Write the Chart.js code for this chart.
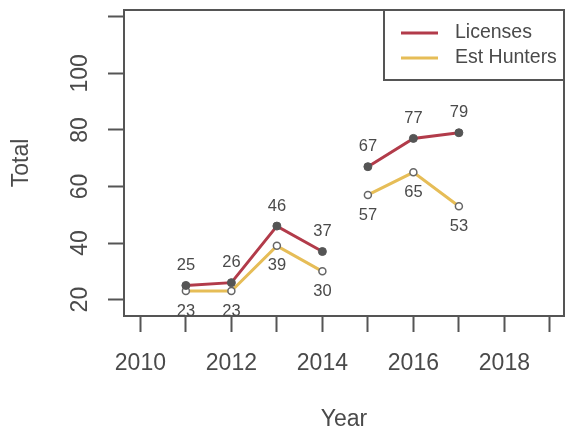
<!DOCTYPE html>
<html>
<head>
<meta charset="utf-8">
<title>Licenses and Est Hunters</title>
<script src="https://cdn.jsdelivr.net/npm/chart.js@4.4.1/dist/chart.umd.min.js"></script>
<style>
  html, body { margin: 0; padding: 0; background: #ffffff; }
  #wrap { width: 566px; height: 432px; }
</style>
</head>
<body>
<div id="wrap"><canvas id="chart" width="566" height="432"></canvas></div>
<script>
// Data
var years = [2011, 2012, 2013, 2014, 2015, 2016, 2017];
var licenses = [25, 26, 46, 37, 67, 77, 79];
var estHunters = [23, 23, 39, 30, 57, 65, 53];
// the lines are broken after this year
var breakAfter = [2014];

// Axis ticks (ticks every year / every 20, labels only on some)
var xTickLabels = [2010, 2012, 2014, 2016, 2018];
var yTickLabels = [20, 40, 60, 80, 100];

var textColor = "#4a4a4a";
var axisColor = "#555555";
var fontFamily = "'Liberation Sans', Arial, Helvetica, sans-serif";

Chart.defaults.font.family = fontFamily;
Chart.defaults.color = textColor;

function toPoints(values) {
  return years.map(function (yr, i) {
    return { x: yr, y: values[i] };
  });
}

function hideBreak(ctx) {
  return breakAfter.indexOf(ctx.p0.parsed.x) >= 0 ? "rgba(0,0,0,0)" : undefined;
}

// Box around the plot region
var plotBox = {
  id: "plotBox",
  afterDatasetsDraw: function (chart) {
    var a = chart.chartArea;
    var ctx = chart.ctx;
    ctx.save();
    ctx.strokeStyle = axisColor;
    ctx.lineWidth = 2;
    ctx.strokeRect(a.left, a.top, a.right - a.left, a.bottom - a.top);
    ctx.restore();
  }
};

// Value labels next to each point
var pointValues = {
  id: "pointValues",
  afterDatasetsDraw: function (chart, args, opts) {
    var ctx = chart.ctx;
    ctx.save();
    ctx.font = "16.5px " + fontFamily;
    ctx.fillStyle = textColor;
    ctx.textAlign = "center";
    ctx.textBaseline = "middle";
    chart.data.datasets.forEach(function (ds, di) {
      var meta = chart.getDatasetMeta(di);
      meta.data.forEach(function (pt, i) {
        ctx.fillText(String(ds.data[i].y), pt.x, pt.y + opts.offsets[di]);
      });
    });
    ctx.restore();
  }
};

// Boxed legend in the top right corner, R style
var boxLegend = {
  id: "boxLegend",
  afterDraw: function (chart) {
    var a = chart.chartArea;
    var ctx = chart.ctx;
    var w = 180, h = 70;
    var left = a.right - w, top = a.top;
    ctx.save();
    ctx.strokeStyle = axisColor;
    ctx.lineWidth = 2;
    ctx.strokeRect(left, top, w, h);
    ctx.font = "19.5px " + fontFamily;
    ctx.textBaseline = "middle";
    ctx.textAlign = "left";
    chart.data.datasets.forEach(function (ds, i) {
      var y = top + 23 + i * 25;
      ctx.strokeStyle = ds.borderColor;
      ctx.lineWidth = 3;
      ctx.beginPath();
      ctx.moveTo(left + 17, y);
      ctx.lineTo(left + 54, y);
      ctx.stroke();
      ctx.fillStyle = textColor;
      ctx.fillText(ds.label, left + 71, y);
    });
    ctx.restore();
  }
};

var tickFont = { size: 23 };

new Chart(document.getElementById("chart").getContext("2d"), {
  type: "line",
  data: {
    datasets: [
      {
        label: "Licenses",
        data: toPoints(licenses),
        borderColor: "#b23b4a",
        borderWidth: 3,
        pointRadius: 4,
        pointBackgroundColor: "#555555",
        pointBorderColor: "#555555",
        pointBorderWidth: 1,
        tension: 0,
        segment: { borderColor: hideBreak }
      },
      {
        label: "Est Hunters",
        data: toPoints(estHunters),
        borderColor: "#e6bd57",
        borderWidth: 3,
        pointRadius: 3.5,
        pointBackgroundColor: "#ffffff",
        pointBorderColor: "#666666",
        pointBorderWidth: 1.5,
        tension: 0,
        segment: { borderColor: hideBreak }
      }
    ]
  },
  options: {
    responsive: false,
    animation: false,
    layout: { autoPadding: false, padding: { top: 10, right: 2, left: 0, bottom: 0 } },
    plugins: {
      legend: { display: false },
      tooltip: { enabled: false },
      pointValues: { offsets: [-20, 20] }
    },
    scales: {
      x: {
        type: "linear",
        min: 2009.64,
        max: 2019.31,
        afterFit: function (scale) {
          scale.height = 116;
          scale.paddingLeft = 0;
          scale.paddingRight = 0;
        },
        ticks: {
          stepSize: 1,
          includeBounds: false,
          autoSkip: false,
          maxRotation: 0,
          padding: 18,
          font: tickFont,
          color: textColor,
          callback: function (v) {
            return xTickLabels.indexOf(v) >= 0 ? String(v) : "";
          }
        },
        grid: {
          drawOnChartArea: false,
          drawTicks: true,
          tickLength: 16,
          tickWidth: 2,
          tickColor: axisColor,
          color: axisColor
        },
        border: { display: false },
        title: {
          display: true,
          text: "Year",
          color: textColor,
          font: { size: 23, lineHeight: 1 },
          padding: { top: 0, bottom: 0.5 }
        }
      },
      y: {
        type: "linear",
        min: 14.2,
        max: 122.4,
        afterFit: function (scale) {
          scale.width = 124;
          scale.paddingTop = 0;
          scale.paddingBottom = 0;
        },
        ticks: {
          stepSize: 20,
          includeBounds: false,
          minRotation: 90,
          maxRotation: 90,
          crossAlign: "center",
          padding: 8,
          font: tickFont,
          color: textColor,
          callback: function (v) {
            return yTickLabels.indexOf(v) >= 0 ? String(v) : "";
          }
        },
        grid: {
          drawOnChartArea: false,
          drawTicks: true,
          tickLength: 16,
          tickWidth: 2,
          tickColor: axisColor,
          color: axisColor
        },
        border: { display: false },
        title: {
          display: true,
          text: "Total",
          color: textColor,
          font: { size: 23 },
          padding: { top: 8, bottom: 0 }
        }
      }
    }
  },
  plugins: [plotBox, pointValues, boxLegend]
});
</script>
</body>
</html>
